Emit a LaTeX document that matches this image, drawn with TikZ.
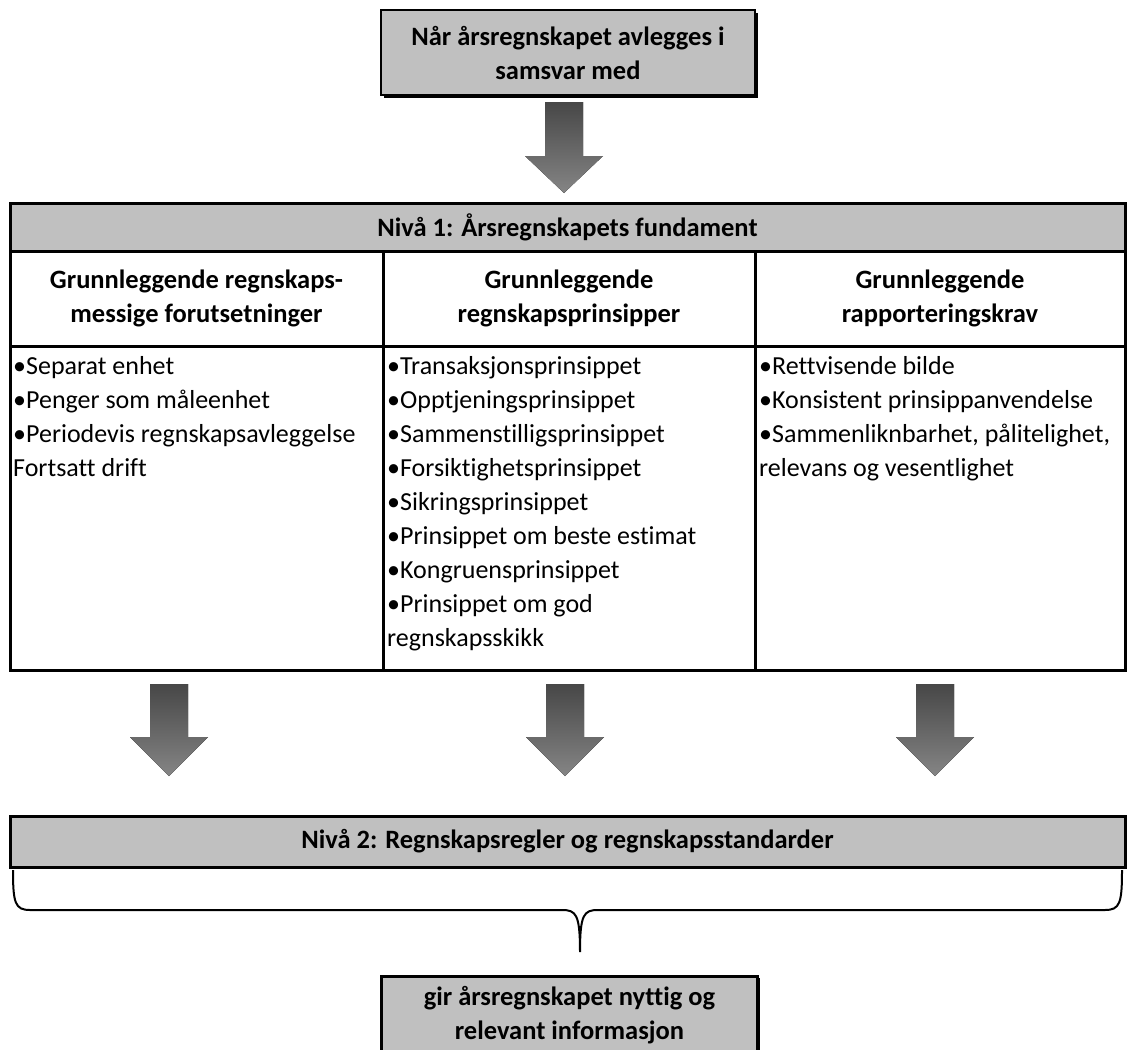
\documentclass[tikz,border=0pt]{standalone}
\usepackage{fontspec}
\setmainfont{Carlito}[Ligatures={NoCommon}]
\definecolor{boxgray}{HTML}{C0C0C0}
\definecolor{arrowtop}{HTML}{474747}
\definecolor{arrowbot}{HTML}{858585}
\newcommand\bkarrow[4]{%
  \fill[top color=arrowtop,bottom color=arrowbot] (#1-19,#2) -- (#1+19,#2) -- (#1+19,#3) -- (#1+39,#3) -- (#1,#4) -- (#1-39,#3) -- (#1-19,#3) -- cycle;}
\begin{document}
\begin{tikzpicture}[x=1pt,y=-1pt,
  bfont/.style={font=\fontsize{26.5}{34}\selectfont\bfseries},
  tfont/.style={font=\fontsize{26}{34}\selectfont},
  graybox/.style={fill=boxgray,draw=black,line width=2.5pt,inner sep=0pt,align=center,bfont},
  cell/.style={draw=black,line width=3pt,inner sep=0pt},
  shadowbox/.style={fill=black,draw=none},
  bullets/.style={inner sep=0pt,align=left,anchor=north west,tfont},
  brace/.style={draw=black,line width=2pt}]
\useasboundingbox (0,0) rectangle (1128,1050);
\fill[white] (0,0) rectangle (1128,1050);
% top box
\fill[shadowbox] (384,13) rectangle (758,98);
\node[graybox,minimum width=374pt,minimum height=85pt] (topbox) at (568,52.5) {Når årsregnskapet avlegges i\\samsvar med};
% arrow 1
\bkarrow{564}{102}{156}{193}
% level 1
\node[cell,fill=boxgray,minimum width=1115pt,minimum height=48pt,bfont] (niva1) at (567.5,227) {Nivå 1: Årsregnskapets fundament};
\node[cell,minimum width=373pt,minimum height=95pt,align=center,bfont] (ch1) at (196.5,298.5) {Grunnleggende regnskaps-\\messige forutsetninger};
\node[cell,minimum width=372pt,minimum height=95pt,align=center,bfont] (ch2) at (569,298.5) {Grunnleggende\\regnskapsprinsipper};
\node[cell,minimum width=370pt,minimum height=95pt,align=center,bfont] (ch3) at (940,298.5) {Grunnleggende\\rapporteringskrav};
\node[cell,minimum width=373pt,minimum height=324pt] (b1) at (196.5,508) {};
\node[cell,minimum width=372pt,minimum height=324pt] (b2) at (569,508) {};
\node[cell,minimum width=370pt,minimum height=324pt] (b3) at (940,508) {};
\node[bullets] (t1) at (13,350) {\strut•Separat enhet\\•Penger som måleenhet\\•Periodevis regnskapsavleggelse\\Fortsatt drift};
\node[bullets] (t2) at (387,350) {\strut•Transaksjonsprinsippet\\•Opptjeningsprinsippet\\•Sammenstilligsprinsippet\\•Forsiktighetsprinsippet\\•Sikringsprinsippet\\•Prinsippet om beste estimat\\•Kongruensprinsippet\\•Prinsippet om god\\regnskapsskikk};
\node[bullets] (t3) at (759,350) {\strut•Rettvisende bilde\\•Konsistent prinsippanvendelse\\•Sammenliknbarhet, pålitelighet,\\relevans og vesentlighet};
% arrows 2
\bkarrow{169}{684}{737}{776}
\bkarrow{565}{684}{737}{776}
\bkarrow{935}{684}{737}{776}
% level 2
\node[cell,fill=boxgray,minimum width=1115pt,minimum height=51pt,bfont] (niva2) at (567.5,841.5) {Nivå 2: Regnskapsregler og regnskapsstandarder};
% brace
\coordinate (bl) at (13,870);
\coordinate (br) at (1122,870);
\coordinate (tip) at (580,952);
\draw[brace] (bl) .. controls (13,903) and (15,910) .. (30,910) -- (562,910) .. controls (576,910) and (580,914) .. (tip) .. controls (580,914) and (584,910) .. (598,910) -- (1105,910) .. controls (1120,910) and (1122,903) .. (br);
% bottom box
\fill[shadowbox] (385,977.5) rectangle (760,1070);
\node[graybox,minimum width=376pt,minimum height=110pt,anchor=north] (botbox) at (569.5,975) {};
\node[bfont,align=center,inner sep=0pt] (bottxt) at (569.5,1015) {gir årsregnskapet nyttig og\\relevant informasjon};
\end{tikzpicture}
\end{document}
